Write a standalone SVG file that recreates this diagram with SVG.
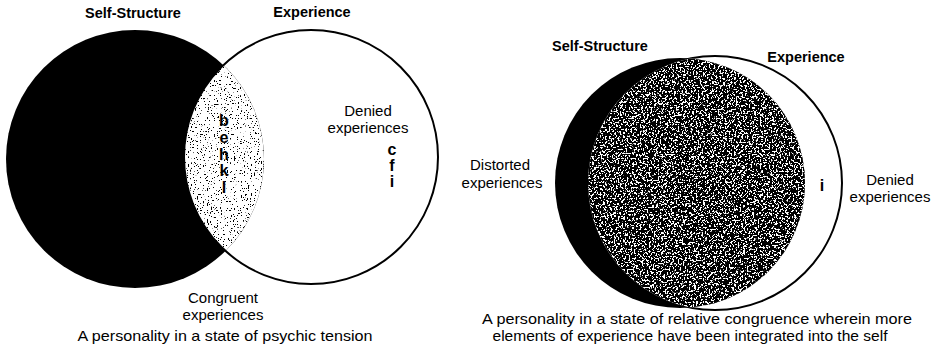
<svg xmlns="http://www.w3.org/2000/svg" width="939" height="361" viewBox="0 0 939 361">
<style>
  .lbl { font-family: "Liberation Sans", Arial, sans-serif; font-size: 15px; fill: #000; text-anchor: middle; }
  .bold { font-weight: bold; font-size: 14.5px; }
  .ltr { font-family: "Liberation Sans", Arial, sans-serif; font-size: 16px; font-weight: bold; fill: #000; text-anchor: middle; }
  .ring { fill: none; stroke: #000; stroke-width: 2; }
</style>
<defs>
  <filter id="sparse" x="0" y="0" width="100%" height="100%" color-interpolation-filters="sRGB">
    <feTurbulence type="fractalNoise" baseFrequency="0.7" numOctaves="2" seed="4"/>
    <feColorMatrix type="matrix" values="0 0 0 0 0  0 0 0 0 0  0 0 0 0 0  -30 0 0 0 10.6"/>
  </filter>
  <filter id="dense" x="0" y="0" width="100%" height="100%" color-interpolation-filters="sRGB">
    <feTurbulence type="fractalNoise" baseFrequency="0.55" numOctaves="3" seed="9"/>
    <feColorMatrix type="matrix" values="0 0 0 0 0  0 0 0 0 0  0 0 0 0 0  -30 0 0 0 17.6"/>
  </filter>
  <clipPath id="selfL"><circle cx="135" cy="159" r="129"/></clipPath>
  <clipPath id="expL"><circle cx="311" cy="157" r="127"/></clipPath>
  <clipPath id="selfR"><circle cx="680" cy="183" r="125"/></clipPath>
  <clipPath id="expR"><circle cx="715" cy="183" r="127"/></clipPath>
</defs>
<rect width="939" height="361" fill="#fff"/>

<!-- Left diagram: psychic tension -->
<g id="left-self-structure">
  <circle cx="135" cy="159" r="129" fill="#000"/>
  <text class="lbl bold" x="133" y="18">Self-Structure</text>
</g>
<g id="left-congruent">
  <g clip-path="url(#selfL)">
    <g clip-path="url(#expL)">
      <rect x="180" y="25" width="90" height="270" fill="#fff"/>
      <rect x="180" y="25" width="90" height="270" fill="#000" filter="url(#sparse)"/>
    </g>
  </g>
  <text class="ltr" x="224" y="126">b</text>
  <text class="ltr" x="224" y="143">e</text>
  <text class="ltr" x="224" y="160">h</text>
  <text class="ltr" x="224" y="176">k</text>
  <text class="ltr" x="224" y="193">l</text>
  <text class="lbl" x="223" y="303">Congruent</text>
  <text class="lbl" x="223" y="320">experiences</text>
</g>
<g id="left-experience">
  <circle class="ring" cx="311" cy="157" r="127"/>
  <text class="lbl bold" x="312" y="17">Experience</text>
  <text class="lbl" x="368" y="116">Denied</text>
  <text class="lbl" x="368" y="133">experiences</text>
  <text class="ltr" x="392" y="155">c</text>
  <text class="ltr" x="392" y="171">f</text>
  <text class="ltr" x="392" y="187">i</text>
</g>
<text class="lbl" x="225" y="341" textLength="295" lengthAdjust="spacingAndGlyphs">A personality in a state of psychic tension</text>

<!-- Right diagram: relative congruence -->
<g id="right-experience">
  <circle class="ring" cx="715" cy="183" r="127"/>
  <text class="lbl bold" x="806" y="62">Experience</text>
  <text class="lbl" x="890" y="185">Denied</text>
  <text class="lbl" x="890" y="202">experiences</text>
  <text class="ltr" x="822" y="191">i</text>
</g>
<g id="right-self-structure">
  <circle cx="680" cy="183" r="125" fill="#000"/>
  <text class="lbl bold" x="600" y="51">Self-Structure</text>
  <text class="lbl" x="500" y="170">Distorted</text>
  <text class="lbl" x="502" y="188">experiences</text>
</g>
<g id="right-congruent">
  <g clip-path="url(#selfR)">
    <g clip-path="url(#expR)">
      <rect x="585" y="55" width="225" height="260" fill="#fff"/>
      <rect x="585" y="55" width="225" height="260" fill="#000" filter="url(#dense)"/>
    </g>
  </g>
</g>
<text class="lbl" x="697" y="324" textLength="430" lengthAdjust="spacingAndGlyphs">A personality in a state of relative congruence wherein more</text>
<text class="lbl" x="690" y="341" textLength="395" lengthAdjust="spacingAndGlyphs">elements of experience have been integrated into the self</text>
<g id="connectors"/>
</svg>
